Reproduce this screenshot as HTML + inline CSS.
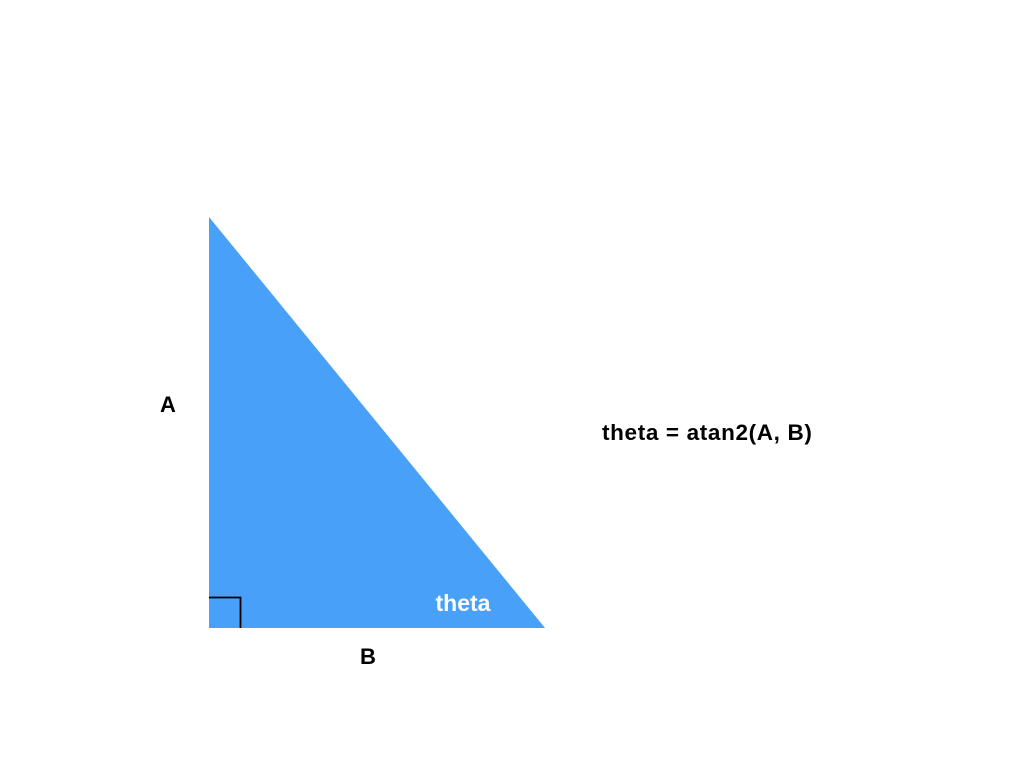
<!DOCTYPE html>
<html><head><meta charset="utf-8"><style>
html,body{margin:0;padding:0;background:#fff;}
svg{display:block;}
text{font-family:"Liberation Sans",Arial,sans-serif;font-weight:bold;}
</style></head><body>
<svg width="1024" height="768" viewBox="0 0 1024 768">
<polygon points="209,217 209,628 545,628" fill="#48A0F8"/>
<polyline points="209,597.5 240.5,597.5 240.5,628" fill="none" stroke="#000" stroke-width="1.8"/>
<text x="168" y="412" font-size="22" text-anchor="middle" fill="#000">A</text>
<text x="368" y="664" font-size="22" text-anchor="middle" fill="#000">B</text>
<text x="463" y="611" font-size="23" text-anchor="middle" fill="#fff">theta</text>
<text x="602" y="440" font-size="22.5" letter-spacing="0.65" fill="#000">theta = atan2(A, B)</text>
</svg>
</body></html>
